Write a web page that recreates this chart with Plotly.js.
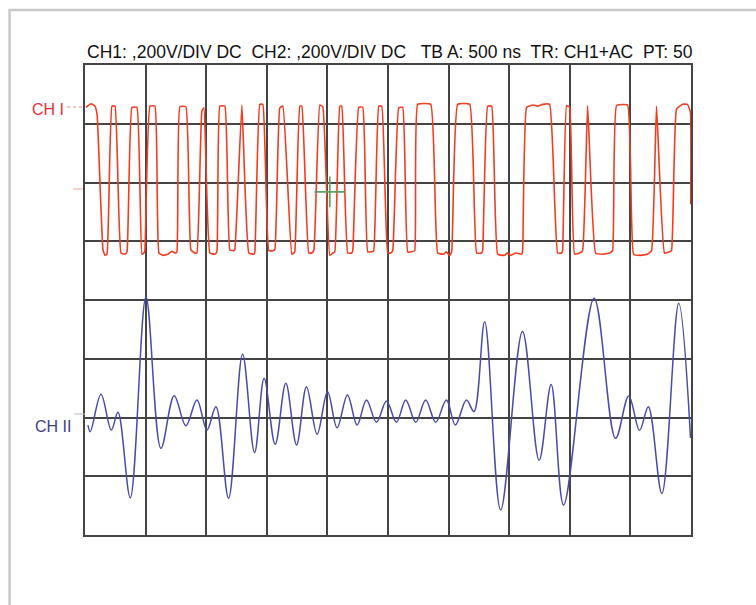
<!DOCTYPE html>
<html>
<head>
<meta charset="utf-8">
<script src="https://cdn.plot.ly/plotly-3.0.1.min.js"></script>
<style>
  html, body { margin: 0; padding: 0; background: #ffffff; }
  #chart { width: 756px; height: 605px; }
</style>
</head>
<body>
<div id="chart"></div>
<script>
// Horizontal axis: divisions (500 ns/div), vertical axis: divisions (0.200 V/div)
const headerText = "CH1: ,200V/DIV DC\u00a0\u00a0CH2: ,200V/DIV DC\u00a0\u00a0\u00a0TB A: 500 ns\u00a0\u00a0TR: CH1+AC\u00a0\u00a0PT: 50";
const channelLabels = ["CH I", "CH II"];

// CH1 trace (red)
const ch1X = [0.016,0.10,0.165,0.20,0.297,0.33,0.363,
  0.445,0.495,0.594,0.660,
  0.693,0.775,0.857,0.940,0.973,
  0.989,1.072,1.154,1.220,1.286,1.369,1.434,1.49,
  1.517,1.566,1.665,1.748,1.814,
  1.847,1.929,1.962,2.061,2.143,
  2.176,2.226,2.308,2.391,2.457,
  2.473,2.589,2.704,2.786,
  2.803,2.885,2.935,3.034,3.100,
  3.133,3.215,3.265,3.413,3.446,
  3.463,3.545,3.578,3.693,3.743,
  3.776,3.875,3.924,4.040,4.089,
  4.122,4.205,4.237,4.336,4.402,
  4.419,4.518,4.584,4.666,4.732,
  4.765,4.848,4.897,4.996,5.045,
  5.078,5.177,5.243,5.326,5.392,
  5.441,5.491,5.705,5.820,5.919,5.96,6.018,
  6.051,6.150,6.348,6.463,6.546,
  6.562,6.645,6.711,6.810,6.925,6.97,7.024,7.107,7.206,
  7.222,7.288,7.40,7.469,7.55,7.667,7.799,7.865,
  7.881,7.947,7.997,8.079,8.162,
  8.211,8.294,8.426,8.541,8.656,
  8.706,8.772,8.953,9.052,9.167,9.283,
  9.349,9.431,9.563,9.646,
  9.679,9.761,9.860,9.942,9.99,9.995];
const ch1Y = [7.28,7.34,7.30,7.15,4.85,4.76,4.78,
  7.30,7.30,4.80,4.78,
  4.82,7.28,7.28,4.78,4.80,
  4.85,7.30,7.30,4.80,4.76,4.78,4.83,4.80,
  4.82,7.29,7.29,4.85,4.80,
  4.80,7.22,7.27,4.80,4.78,
  4.82,7.30,7.30,4.85,4.84,
  4.86,7.32,4.80,4.78,
  4.82,7.33,7.33,4.84,4.84,
  4.86,7.27,7.30,4.78,4.80,
  4.82,7.30,7.30,4.80,4.80,
  4.84,7.32,7.29,4.76,4.80,
  4.82,7.30,7.30,4.80,4.80,
  4.84,7.28,7.28,4.82,4.82,
  4.84,7.30,7.30,4.80,4.80,
  4.84,7.27,7.28,4.82,4.82,
  4.84,7.33,7.33,4.80,4.78,4.82,4.76,
  4.82,7.33,7.33,4.80,4.80,
  4.84,7.30,7.30,4.78,4.76,4.80,4.76,4.80,4.78,
  4.84,7.28,7.32,7.30,7.33,7.33,4.80,4.80,
  4.84,7.31,7.28,4.78,4.80,
  4.84,7.31,4.80,4.78,4.80,
  4.84,7.31,7.32,4.78,4.76,4.78,
  4.84,7.30,4.80,4.82,
  4.84,7.25,7.33,7.33,7.20,5.63];

// CH2 trace (blue), turning points
const ch2X = [0.049,0.087,0.264,0.434,0.544,0.747,1.006,1.253,1.472,1.665,1.847,2.012,2.160,
  2.369,2.600,2.798,2.956,3.138,3.314,3.491,3.655,3.830,4.002,4.160,4.331,4.490,4.645,
  4.810,4.975,5.139,5.293,5.458,5.622,5.787,5.964,6.112,6.294,6.419,6.595,6.859,7.219,
  7.494,7.692,7.898,8.401,8.755,8.973,9.151,9.296,9.519,9.797,9.992];
const ch2Y = [1.872,1.758,2.395,1.787,2.089,0.635,4.056,1.476,2.371,1.860,2.298,1.787,2.184,
  0.625,3.076,1.401,2.667,1.544,2.582,1.532,2.524,1.714,2.439,1.826,2.383,1.872,2.298,
  1.918,2.281,1.918,2.298,1.918,2.298,1.918,2.298,1.872,2.298,2.099,3.631,0.426,3.464,
  1.271,2.562,0.511,4.029,1.646,2.366,1.782,2.184,0.705,3.944,1.651];

// cursor cross position
const cursorX = [4.04];
const cursorY = [5.84];

const traces = [
  { x: ch1X, y: ch1Y, type: "scatter", mode: "lines",
    line: { color: "#f23c22", width: 1.6, shape: "spline", smoothing: 0.35 }, hoverinfo: "skip", showlegend: false },
  { x: ch2X, y: ch2Y, type: "scatter", mode: "lines",
    line: { color: "#4a4aaa", width: 1.5, shape: "spline", smoothing: 1 }, hoverinfo: "skip", showlegend: false },
  { x: cursorX, y: cursorY, type: "scatter", mode: "markers",
    marker: { symbol: "cross-thin", size: 22, color: "#5e9e5e", line: { color: "#5e9e5e", width: 1.6 } },
    hoverinfo: "skip", showlegend: false }
];

const axisCommon = {
  showgrid: true, gridcolor: "#444444", gridwidth: 2,
  zeroline: false, showticklabels: false, ticks: "",
  showline: true, mirror: true, linecolor: "#444444", linewidth: 2,
  fixedrange: true
};

const layout = {
  width: 756, height: 605,
  margin: { l: 85, r: 64.5, t: 65, b: 70 },
  paper_bgcolor: "#ffffff", plot_bgcolor: "#ffffff",
  font: { family: "Liberation Sans, Arial, sans-serif", color: "#111111" },
  title: { text: headerText, font: { size: 17.5, color: "#111111", family: "Liberation Sans, Arial, sans-serif" },
           xref: "paper", x: 0.503, xanchor: "center", yref: "container", y: 1 - 52 / 605, yanchor: "middle" },
  xaxis: Object.assign({}, axisCommon, { range: [0, 10], dtick: 1, tick0: 0 }),
  yaxis: Object.assign({}, axisCommon, { range: [0, 8], dtick: 1, tick0: 0 }),
  shapes: [
    { type: "rect", xref: "paper", yref: "paper", x0: -0.1245, x1: 1.25, y0: -0.25, y1: 1.117,
      line: { color: "#c9c9c9", width: 2.5 }, fillcolor: "rgba(0,0,0,0)", layer: "below" },
    { type: "line", xref: "paper", yref: "paper", x0: (67 - 85) / 606.5, x1: (84 - 85) / 606.5,
      y0: (535 - 107) / 470, y1: (535 - 107) / 470, line: { color: "#f08a80", width: 1.2, dash: "dot" } },
    { type: "line", xref: "paper", yref: "paper", x0: (73 - 85) / 606.5, x1: (83 - 85) / 606.5,
      y0: (535 - 189) / 470, y1: (535 - 189) / 470, line: { color: "#f6b2a8", width: 1.2 } },
    { type: "line", xref: "paper", yref: "paper", x0: (74 - 85) / 606.5, x1: (85 - 85) / 606.5,
      y0: (535 - 414) / 470, y1: (535 - 414) / 470, line: { color: "#b8b8cc", width: 1 } }
  ],
  annotations: [
    { text: channelLabels[0], xref: "paper", yref: "paper", x: (66 - 85) / 606.5, y: (535 - 110) / 470,
      xanchor: "right", yanchor: "middle", showarrow: false, font: { size: 16, color: "#e8303a" } },
    { text: channelLabels[1], xref: "paper", yref: "paper", x: (73 - 85) / 606.5, y: (535 - 426.5) / 470,
      xanchor: "right", yanchor: "middle", showarrow: false, font: { size: 16, color: "#3e3e88" } }
  ]
};

Plotly.newPlot("chart", traces, layout, { displayModeBar: false, staticPlot: true });
</script>
</body>
</html>
